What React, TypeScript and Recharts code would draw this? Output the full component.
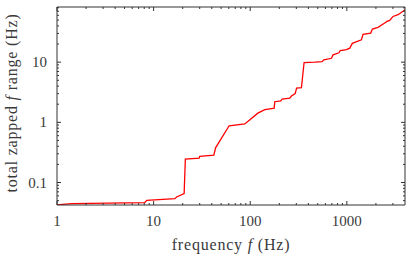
import React from 'react';
import { LineChart, Line, XAxis, YAxis } from 'recharts';

const freq = [1, 1.42, 8.1, 8.5, 16.6, 17.3, 20.7, 21.3, 29.6, 30.0, 42, 43.8, 60.5, 87.9, 120, 141.6, 172.6, 177, 179.6, 207, 214, 256.8, 267, 292, 302, 339, 361, 466, 555, 577, 693, 720, 830, 855, 990, 1072, 1140, 1416, 1471, 1766, 1840, 2103, 2466, 2606, 2780, 3006, 3386, 3813, 4000];
const zapped = [0.0425, 0.0445, 0.0465, 0.0505, 0.054, 0.0575, 0.0656, 0.245, 0.254, 0.272, 0.285, 0.377, 0.877, 0.94, 1.42, 1.62, 1.71, 1.72, 2.2, 2.28, 2.44, 2.52, 2.74, 3.0, 3.69, 3.78, 9.85, 10.0, 10.2, 10.9, 11.6, 13.2, 14.3, 15.6, 16.2, 17.1, 20.5, 23.5, 29.0, 30.4, 35.5, 37.8, 44.7, 47.5, 49.5, 57.5, 61.4, 70, 74];

const xMajor = [1, 10, 100, 1000];
const xMinor = [2, 3, 4, 5, 6, 7, 8, 9, 20, 30, 40, 50, 60, 70, 80, 90, 200, 300, 400, 500, 600, 700, 800, 900, 2000, 3000];
const yMajor = [0.1, 1, 10];
const yMinor = [0.05, 0.06, 0.07, 0.08, 0.09, 0.2, 0.3, 0.4, 0.5, 0.6, 0.7, 0.8, 0.9, 2, 3, 4, 5, 6, 7, 8, 9, 20, 30, 40, 50, 60, 70, 80];
const xDomain = [1, 4000];
const yDomain = [0.0423, 82.5];

const data = freq.map((f, i) => ({ f, v: zapped[i] }));
const xTicks = [...xMajor, ...xMinor].sort((a, b) => a - b);
const yTicks = [...yMajor, ...yMinor].sort((a, b) => a - b);

const M = 10;
const FONT = '"Liberation Serif", "DejaVu Serif", serif';
const AX = '#333';
const TXT = '#3a3a3a';

function XBottomTick(props: any) {
  const { x, y, payload } = props;
  const ay = y - M;
  const major = xMajor.includes(payload.value);
  return (
    <g>
      <line x1={x} x2={x} y1={ay} y2={ay - (major ? 4 : 2)} stroke={AX} strokeWidth={1} />
      {major && (
        <text x={x} y={ay + 21} textAnchor="middle" fontFamily={FONT} fontSize={15} fill={TXT}>
          {payload.value}
        </text>
      )}
    </g>
  );
}

function XTopTick(props: any) {
  const { x, y, payload } = props;
  const ay = y + M;
  const major = xMajor.includes(payload.value);
  return <line x1={x} x2={x} y1={ay} y2={ay + (major ? 4 : 2)} stroke={AX} strokeWidth={1} />;
}

function YLeftTick(props: any) {
  const { x, y, payload } = props;
  const ax = x + M;
  const major = yMajor.includes(payload.value);
  return (
    <g>
      <line x1={ax} x2={ax + (major ? 4 : 2)} y1={y} y2={y} stroke={AX} strokeWidth={1} />
      {major && (
        <text x={ax - 10} y={y + 5} textAnchor="end" fontFamily={FONT} fontSize={15} fill={TXT}>
          {payload.value}
        </text>
      )}
    </g>
  );
}

function YRightTick(props: any) {
  const { x, y, payload } = props;
  const ax = x - M;
  const major = yMajor.includes(payload.value);
  return <line x1={ax} x2={ax - (major ? 4 : 2)} y1={y} y2={y} stroke={AX} strokeWidth={1} />;
}

export default function App() {
  return (
    <div style={{ position: 'fixed', left: 0, top: 0, width: 415, height: 257, background: '#fff' }}>
      <LineChart width={415} height={257} data={data} margin={{ top: 0, right: 0, bottom: 0, left: 0 }}>
        <XAxis
          xAxisId="b"
          dataKey="f"
          type="number"
          scale="log"
          domain={xDomain}
          allowDataOverflow
          ticks={xTicks}
          interval={0}
          tickSize={0}
          tickMargin={M}
          tickLine={false}
          tick={<XBottomTick />}
          height={52}
          orientation="bottom"
          stroke={AX}
        />
        <XAxis
          xAxisId="t"
          dataKey="f"
          type="number"
          scale="log"
          domain={xDomain}
          allowDataOverflow
          ticks={xTicks}
          interval={0}
          tickSize={0}
          tickMargin={M}
          tickLine={false}
          tick={<XTopTick />}
          height={7}
          orientation="top"
          stroke={AX}
        />
        <YAxis
          yAxisId="l"
          dataKey="v"
          type="number"
          scale="log"
          domain={yDomain}
          allowDataOverflow
          ticks={yTicks}
          interval={0}
          tickSize={0}
          tickMargin={M}
          tickLine={false}
          tick={<YLeftTick />}
          width={57}
          orientation="left"
          stroke={AX}
        />
        <YAxis
          yAxisId="r"
          dataKey="v"
          type="number"
          scale="log"
          domain={yDomain}
          allowDataOverflow
          ticks={yTicks}
          interval={0}
          tickSize={0}
          tickMargin={M}
          tickLine={false}
          tick={<YRightTick />}
          width={10}
          orientation="right"
          stroke={AX}
        />
        <Line
          xAxisId="b"
          yAxisId="l"
          type="linear"
          dataKey="v"
          stroke="#ff0000"
          strokeWidth={1.3}
          dot={false}
          isAnimationActive={false}
        />
        <Line
          xAxisId="t"
          yAxisId="r"
          type="linear"
          dataKey="v"
          stroke="none"
          dot={false}
          isAnimationActive={false}
        />
      </LineChart>
      <div
        style={{
          position: 'absolute',
          left: 0,
          top: 0,
          width: 415,
          height: 257,
          pointerEvents: 'none',
        }}
      >
        <svg width={415} height={257} style={{ position: 'absolute', left: 0, top: 0 }}>
          <text x={231} y={250} textAnchor="middle" fontFamily={FONT} fontSize={16} letterSpacing={0.8} fill={TXT}>
            frequency <tspan fontStyle="italic">f</tspan> (Hz)
          </text>
          <text
            x={0}
            y={0}
            transform="translate(17,103) rotate(-90)"
            textAnchor="middle"
            fontFamily={FONT}
            fontSize={16}
            letterSpacing={0.8}
            fill={TXT}
          >
            total zapped <tspan fontStyle="italic">f</tspan> range (Hz)
          </text>
        </svg>
      </div>
    </div>
  );
}
